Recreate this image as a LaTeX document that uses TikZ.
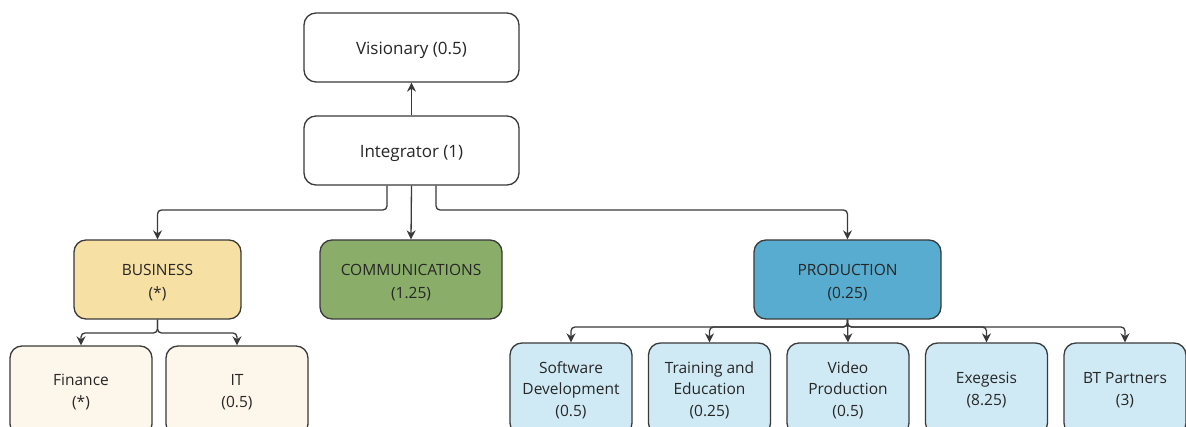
\documentclass[tikz,border=0pt]{standalone}
\usepackage{fontspec}
\setmainfont{Open Sans}
\usetikzlibrary{arrows.meta}
\definecolor{edge}{HTML}{3A3A3A}
\definecolor{busfill}{HTML}{F7E0A3}
\definecolor{busl}{HTML}{FDF6EA}
\definecolor{comfill}{HTML}{8AAE6A}
\definecolor{profill}{HTML}{58ACD0}
\definecolor{prol}{HTML}{D0EAF5}
\tikzset{
  box/.style={draw=edge, line width=1.3pt, rounded corners=12pt, inner sep=0pt},
  txt/.style={align=center, inner sep=0pt, yshift=-3pt, font=\fontsize{15.5}{22.5}\selectfont, text=black!85},
  lowtxt/.style={txt, yshift=2pt, font=\fontsize{15.5}{21.5}\selectfont},
  toptxt/.style={txt, font=\fontsize{17}{22}\selectfont},
  topbox/.style={box, fill=white, minimum width=215pt, minimum height=69pt},
  conn/.style={draw=edge, line width=1.3pt, rounded corners=4pt, -{Stealth[length=9pt,width=9pt]}},
}
\begin{document}
\begin{tikzpicture}[x=1pt,y=-1pt]
\useasboundingbox (0,0) rectangle (1186,427);
\clip (0,0) rectangle (1186,427);
\fill[white] (0,0) rectangle (1186,427);
% top
\node[topbox, label={[toptxt]center:{Visionary (0.5)}}] (vis) at (411.5,47.5) {};
\node[topbox, label={[toptxt]center:{Integrator (1)}}] (int) at (411.5,150.5) {};
% middle
\node[box, fill=busfill, minimum width=167pt, minimum height=79pt, label={[txt]center:{BUSINESS\\(*)}}] (bus) at (157.5,279.5) {};
\node[box, fill=comfill, minimum width=182pt, minimum height=79pt, label={[txt]center:{COMMUNICATIONS\\(1.25)}}] (com) at (411,279.5) {};
\node[box, fill=profill, minimum width=187pt, minimum height=79pt, label={[txt]center:{PRODUCTION\\(0.25)}}] (pro) at (847.5,279.5) {};
% business children
\node[box, fill=busl, minimum width=142pt, minimum height=90pt, label={[lowtxt]center:{Finance\\(*)}}] (fin) at (81,391) {};
\node[box, fill=busl, minimum width=142pt, minimum height=90pt, label={[lowtxt]center:{IT\\(0.5)}}] (it) at (237,391) {};
% production children
\node[box, fill=prol, minimum width=122pt, minimum height=92pt, label={[lowtxt]center:{Software\\Development\\(0.5)}}] (sw) at (571,389) {};
\node[box, fill=prol, minimum width=122pt, minimum height=92pt, label={[lowtxt]center:{Training and\\Education\\(0.25)}}] (tr) at (709.5,389) {};
\node[box, fill=prol, minimum width=122pt, minimum height=92pt, label={[lowtxt]center:{Video\\Production\\(0.5)}}] (vp) at (848,389) {};
\node[box, fill=prol, minimum width=122pt, minimum height=92pt, label={[lowtxt]center:{Exegesis\\(8.25)}}] (ex) at (986.5,389) {};
\node[box, fill=prol, minimum width=122pt, minimum height=92pt, label={[lowtxt]center:{BT Partners\\(3)}}] (bt) at (1125,389) {};
% connectors
\draw[conn] (int.north) -- (vis.south);
\draw[conn] ([xshift=-24.5pt]int.south) |- (300,210) -| (bus.north);
\draw[conn] (int.south) -- (com.north);
\draw[conn] ([xshift=24.5pt]int.south) |- (700,210) -| (pro.north);
\draw[conn] (bus.south) |- (120,333) -| (fin.north);
\draw[conn] (bus.south) |- (200,333) -| (it.north);
\draw[conn] (pro.south) |- (700,327) -| (sw.north);
\draw[conn] (pro.south) |- (780,327) -| (tr.north);
\draw[conn] (pro.south) -- (vp.north);
\draw[conn] (pro.south) |- (900,327) -| (ex.north);
\draw[conn] (pro.south) |- (1000,327) -| (bt.north);
\end{tikzpicture}
\end{document}
